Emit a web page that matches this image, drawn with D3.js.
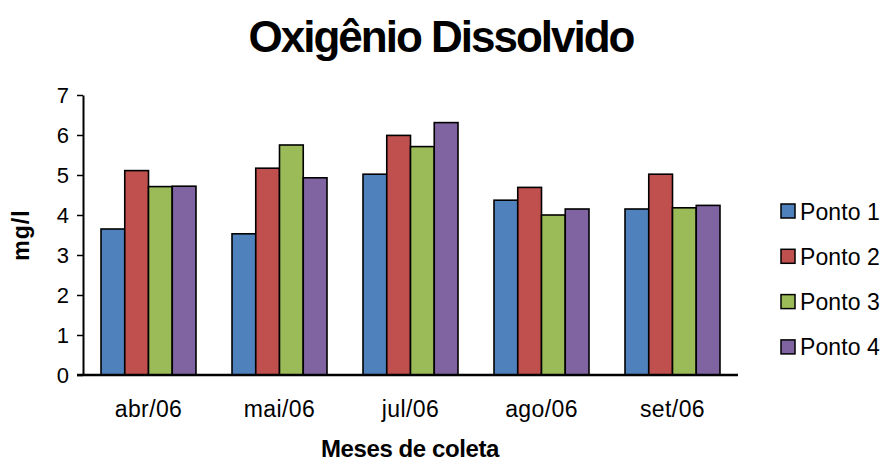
<!DOCTYPE html>
<html>
<head>
<meta charset="utf-8">
<script src="https://cdn.jsdelivr.net/npm/d3@7"></script>
<style>
  html, body { margin: 0; padding: 0; background: #fff; }
  svg { display: block; font-family: "Liberation Sans", Arial, sans-serif; }
</style>
</head>
<body>
<svg id="chart" width="887" height="461"></svg>
<script>
// Dissolved oxygen (mg/l) per sampling month and sampling point
const months = ["abr/06", "mai/06", "jul/06", "ago/06", "set/06"];
const seriesNames = ["Ponto 1", "Ponto 2", "Ponto 3", "Ponto 4"];
const ponto1 = [3.65, 3.53, 5.02, 4.37, 4.15];
const ponto2 = [5.11, 5.17, 5.99, 4.69, 5.02];
const ponto3 = [4.71, 5.75, 5.71, 4.00, 4.18];
const ponto4 = [4.72, 4.93, 6.31, 4.15, 4.24];
const yTicks = [0, 1, 2, 3, 4, 5, 6, 7];
const colors = ["#4F81BD", "#C0504D", "#9BBB59", "#8064A2"];

const seriesValues = [ponto1, ponto2, ponto3, ponto4];

const svg = d3.select("#chart");
const plot = { left: 83, right: 738, top: 95, bottom: 375 };

const x0 = d3.scaleBand().domain(months).range([plot.left, plot.right]).paddingInner(0.275).paddingOuter(0.1375);
const x1 = d3.scaleBand().domain(seriesNames).range([0, x0.bandwidth()]);
const y = d3.scaleLinear().domain([0, 7]).range([plot.bottom, plot.top]);

// Title
svg.append("text")
  .attr("x", 441).attr("y", 52)
  .attr("text-anchor", "middle")
  .attr("font-size", 44).attr("font-weight", "bold")
  .attr("letter-spacing", -2.0)
  .text("Oxigênio Dissolvido");

// Bars
const groups = svg.append("g").selectAll("g")
  .data(months)
  .join("g")
  .attr("transform", d => `translate(${x0(d)},0)`);

groups.selectAll("rect")
  .data((m, i) => seriesNames.map((s, k) => ({ s, k, v: seriesValues[k][i] })))
  .join("rect")
  .attr("x", d => x1(d.s))
  .attr("y", d => y(d.v))
  .attr("width", x1.bandwidth())
  .attr("height", d => y(0) - y(d.v))
  .attr("fill", d => colors[d.k])
  .attr("stroke", "#000")
  .attr("stroke-width", 1.6);

// Y axis
const yAxis = svg.append("g")
  .attr("transform", `translate(${plot.left},0)`)
  .call(d3.axisLeft(y).tickValues(yTicks).tickFormat(d3.format("d")).tickSize(6).tickSizeOuter(0));
yAxis.select(".domain").attr("stroke", "#000").attr("stroke-width", 2);
yAxis.selectAll(".tick line").attr("stroke", "#000").attr("stroke-width", 1.5);
yAxis.selectAll(".tick text")
  .attr("font-size", 22).attr("fill", "#000").attr("x", -14)
  .attr("font-family", "Liberation Sans, Arial, sans-serif");

// X axis
const xAxis = svg.append("g")
  .attr("transform", `translate(0,${plot.bottom})`)
  .call(d3.axisBottom(x0).tickSize(0).tickSizeOuter(0).tickPadding(26));
xAxis.select(".domain").attr("stroke", "#000").attr("stroke-width", 2.5)
  .attr("d", `M${plot.left - 6},0H${plot.right}`);
xAxis.selectAll(".tick text")
  .attr("font-size", 23).attr("fill", "#000").attr("letter-spacing", 0.4)
  .attr("font-family", "Liberation Sans, Arial, sans-serif");

// Axis titles
svg.append("text")
  .attr("x", 410).attr("y", 457)
  .attr("text-anchor", "middle")
  .attr("font-size", 24).attr("font-weight", "bold").attr("letter-spacing", -0.4)
  .text("Meses de coleta");

svg.append("text")
  .attr("transform", "translate(29,235) rotate(-90)")
  .attr("text-anchor", "middle")
  .attr("font-size", 23).attr("font-weight", "bold").attr("letter-spacing", 1)
  .text("mg/l");

// Legend
const legend = svg.append("g").selectAll("g")
  .data(seriesNames)
  .join("g")
  .attr("transform", (d, i) => `translate(781,${211 + i * 45.3})`);
legend.append("rect")
  .attr("x", 0).attr("y", -7).attr("width", 14).attr("height", 14)
  .attr("fill", (d, i) => colors[i])
  .attr("stroke", "#000").attr("stroke-width", 1.5);
legend.append("text")
  .attr("x", 19).attr("y", 8.5)
  .attr("font-size", 23).attr("letter-spacing", 0.1)
  .text(d => d);
</script>
</body>
</html>
